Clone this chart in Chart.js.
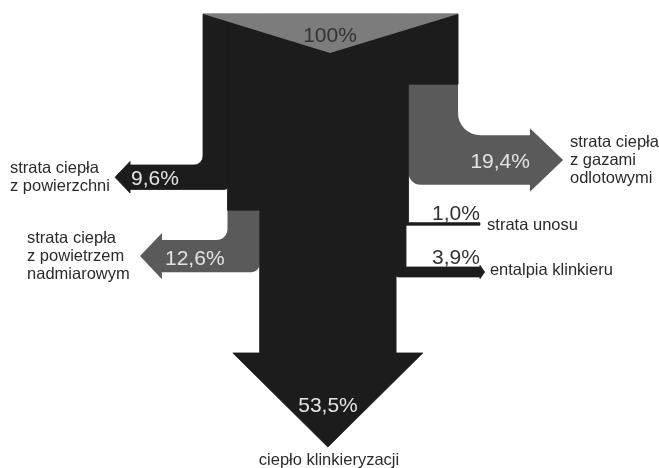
<!DOCTYPE html>
<html>
<head>
<meta charset="utf-8">
<script src="https://cdn.jsdelivr.net/npm/chart.js@4.4.0/dist/chart.umd.min.js"></script>
<style>
    html, body { margin: 0; padding: 0; background: #fff; }
    #wrap { width: 659px; height: 468px; position: relative; }
</style>
</head>
<body>
<div id="wrap"><canvas id="sankey"></canvas></div>
<script>
// Heat balance (% of input), flows listed left to right as they leave the column
const totalValue = 100;
const flowValues = [9.6, 12.6, 53.5, 3.9, 1.0, 19.4];
const flowNames = [
    ['strata ciepła', 'z powierzchni'],
    ['strata ciepła', 'z powietrzem', 'nadmiarowym'],
    ['ciepło klinkieryzacji'],
    ['entalpia klinkieru'],
    ['strata unosu'],
    ['strata ciepła', 'z gazami', 'odlotowymi']
];
const flowDirections = ['left', 'left', 'down', 'right', 'right', 'right'];

// Layout in chart units (1 unit = 1% of column width)
const flowTurnAt = [59.2, 88.6, 132.9, 99.2, 81.8, 47.5];
const flowHeadAt = [-28.6, -16.1, 0, 108.6, 108.6, 128.2];
const flowTipLength = [5.9, 8.6, 36.9, 1.8, 0, 13];
const flowHeadExtra = [1.4, 2.75, 10.5, 0.7, 0, 2.75];
const flowColorFrom = [0, 76.9, 0, 0, 0, 27.5];
const flowCorners = [[9, 3], [11, 8], [0, 0], [2, 0], [0, 0], [12, 22]]; // px radius: outer, inner
const valueLabelPos = [[-28.2, 67.1, 'left'], [-14.9, 98.4, 'left'], [49, 156.1, 'center'], [108.6, 98.0, 'right'], [108.6, 80.8, 'right'], [128.2, 60.4, 'right']];
const nameLabelPos = [[-75.7, 62.4, 'left'], [-69.0, 89.8, 'left'], [49.4, 176.9, 'center'], [112.5, 102.4, 'left'], [111.4, 84.7, 'left'], [143.9, 52.2, 'left']];
const notchDepth = 15.3;
const totalLabelPos = [49.8, 10.8];

const BLACK = '#1c1c1c';
const GRAY = '#5a5a5a';
const NOTCH = '#7c7c7c';
const flowColors = [BLACK, GRAY, BLACK, BLACK, BLACK, GRAY];

function fmt(v) {
    return v.toFixed(1).replace('.', ',') + '%';
}

const sankeyPlugin = {
    id: 'sankeyFlows',
    afterDatasetsDraw(chart) {
        const ctx = chart.ctx;
        const X = v => chart.scales.x.getPixelForValue(v);
        const Y = v => chart.scales.y.getPixelForValue(v);

        // start offsets of each flow across the column
        const starts = [];
        let acc = 0;
        flowValues.forEach(v => { starts.push(acc); acc += v; });

        function flowPath(i) {
            const a = starts[i], w = flowValues[i], b = a + w;
            const t = flowTurnAt[i], hx = flowHeadAt[i];
            const tip = flowTipLength[i], e = flowHeadExtra[i];
            const [ro, ri] = flowCorners[i];
            ctx.beginPath();
            ctx.moveTo(X(a), Y(0));
            if (flowDirections[i] === 'left') {
                ctx.arcTo(X(a), Y(t), X(hx), Y(t), ro);
                ctx.lineTo(X(hx), Y(t));
                ctx.lineTo(X(hx), Y(t - e));
                ctx.lineTo(X(hx - tip), Y(t + w / 2));
                ctx.lineTo(X(hx), Y(t + w + e));
                ctx.lineTo(X(hx), Y(t + w));
                ctx.arcTo(X(b), Y(t + w), X(b), Y(0), ri);
            } else if (flowDirections[i] === 'right') {
                ctx.arcTo(X(a), Y(t + w), X(hx), Y(t + w), ro);
                ctx.lineTo(X(hx), Y(t + w));
                ctx.lineTo(X(hx), Y(t + w + e));
                ctx.lineTo(X(hx + tip), Y(t + w / 2));
                ctx.lineTo(X(hx), Y(t - e));
                ctx.lineTo(X(hx), Y(t));
                ctx.arcTo(X(b), Y(t), X(b), Y(0), ri);
            } else {
                ctx.lineTo(X(a), Y(t));
                ctx.lineTo(X(a - e), Y(t));
                ctx.lineTo(X(a + w / 2), Y(t + tip));
                ctx.lineTo(X(b + e), Y(t));
                ctx.lineTo(X(b), Y(t));
            }
            ctx.lineTo(X(b), Y(0));
            ctx.closePath();
        }

        ctx.save();
        ctx.lineJoin = 'miter';
        // gray flows underneath
        flowValues.forEach((v, i) => {
            if (flowColors[i] === BLACK) return;
            flowPath(i);
            ctx.fillStyle = flowColors[i];
            ctx.fill();
        });
        // black flows, stroked to hide seams
        ctx.fillStyle = BLACK;
        ctx.strokeStyle = BLACK;
        ctx.lineWidth = 0.8;
        flowValues.forEach((v, i) => {
            if (flowColors[i] !== BLACK) return;
            flowPath(i);
            ctx.fill();
            ctx.stroke();
        });
        // black part of the gray flows, above where their colour begins
        flowValues.forEach((v, i) => {
            if (flowColors[i] === BLACK) return;
            const a = starts[i];
            ctx.beginPath();
            ctx.rect(X(a), Y(0), X(a + v) - X(a), Y(flowColorFrom[i]) - Y(0));
            ctx.fill();
            ctx.stroke();
        });

        // input notch
        ctx.beginPath();
        ctx.moveTo(X(0), Y(0));
        ctx.lineTo(X(totalValue), Y(0));
        ctx.lineTo(X(totalLabelPos[0]), Y(notchDepth));
        ctx.closePath();
        ctx.fillStyle = NOTCH;
        ctx.fill();

        // texts
        ctx.textBaseline = 'alphabetic';
        ctx.font = '21px "Liberation Sans", Arial, sans-serif';
        ctx.textAlign = 'center';
        ctx.fillStyle = '#333';
        ctx.fillText(totalValue + '%', X(totalLabelPos[0]), Y(totalLabelPos[1]));

        flowValues.forEach((v, i) => {
            const [u, vv, align] = valueLabelPos[i];
            const thin = v < 5;
            ctx.fillStyle = thin ? '#333' : '#e4e4e4';
            ctx.textAlign = align;
            ctx.font = '21px "Liberation Sans", Arial, sans-serif';
            ctx.fillText(fmt(v), X(u), Y(vv));

            const [nu, nv, nalign] = nameLabelPos[i];
            ctx.fillStyle = '#2b2b2b';
            ctx.textAlign = nalign;
            ctx.font = '16.5px "Liberation Sans", Arial, sans-serif';
            flowNames[i].forEach((line, k) => {
                ctx.fillText(line, X(nu), Y(nv) + k * 18);
            });
        });
        ctx.restore();
    }
};

new Chart(document.getElementById('sankey'), {
    type: 'scatter',
    data: { datasets: [{ data: [], pointRadius: 0 }] },
    options: {
        responsive: true,
        maintainAspectRatio: false,
        animation: false,
        events: [],
        layout: { padding: 0 },
        plugins: { legend: { display: false }, tooltip: { enabled: false } },
        scales: {
            x: { type: 'linear', display: false, min: -79.6, max: 178.8 },
            y: { type: 'linear', display: false, reverse: true, min: -5.5, max: 178.0 }
        }
    },
    plugins: [sankeyPlugin]
});
</script>
</body>
</html>
